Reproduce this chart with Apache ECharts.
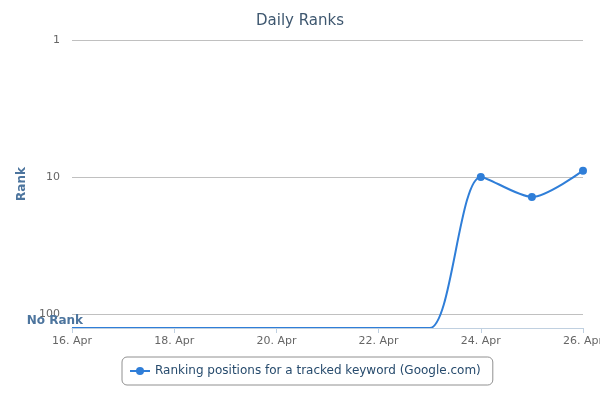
<!DOCTYPE html>
<html><head><meta charset="utf-8">
<script src="https://cdn.jsdelivr.net/npm/echarts@6/dist/echarts.min.js"></script>
<style>html,body{margin:0;padding:0;background:#fff}#c{width:600px;height:400px}</style>
</head><body><div id="c"></div>
<script>
const categories = ['16. Apr','17. Apr','18. Apr','19. Apr','20. Apr','21. Apr','22. Apr','23. Apr','24. Apr','25. Apr','26. Apr'];
const ranks = [null,null,null,null,null,null,null,null,10,14,9];
const NO_RANK = 127;
const yTicks = [1,10,100];
const seriesName = 'Ranking positions for a tracked keyword (Google.com)';

const seriesData = ranks.map(r => r === null ? {value: NO_RANK, symbol: 'none'} : {value: r});

const chart = echarts.init(document.getElementById('c'));
chart.setOption({
  animation: false,
  textStyle: {fontFamily: 'DejaVu Sans'},
  title: {text: 'Daily Ranks', left: 'center', top: 9,
    textStyle: {color: '#3e576f', fontSize: 15, fontWeight: 'normal', fontFamily: 'DejaVu Sans'}},
  grid: {left: 72, right: 17, top: 40, bottom: 72, outerBoundsMode: 'none', containLabel: false},
  xAxis: {type: 'category', data: categories, boundaryGap: false,
    axisLine: {lineStyle: {color: '#c0d0e0'}},
    axisTick: {interval: 1, lineStyle: {color: '#c0d0e0'}, length: 5},
    axisLabel: {interval: 1, color: '#666', fontSize: 11, margin: 8}},
  yAxis: {type: 'log', logBase: 10, inverse: true, min: 1, max: NO_RANK,
    name: 'Rank', nameLocation: 'middle', nameGap: 40, nameRotate: 90,
    nameTextStyle: {color: '#4d759e', fontWeight: 'bold', fontSize: 12},
    axisLine: {show: false}, axisTick: {show: false},
    splitLine: {lineStyle: {color: '#c0c0c0'}},
    axisLabel: {color: '#666', fontSize: 11, margin: 12,
      formatter: v => yTicks.includes(Math.round(v)) ? String(Math.round(v)) : ''}},
  legend: {top: 357, left: 122, borderColor: '#909090', borderWidth: 1, borderRadius: 5,
    padding: [8, 12, 8, 7], itemWidth: 20, itemHeight: 10, itemGap: 8,
    textStyle: {color: '#274b6d', fontSize: 12}},
  series: [{
    name: seriesName, type: 'line', data: seriesData, smooth: 0.28,
    color: '#2f7ed8', symbol: 'circle', symbolSize: 8,
    lineStyle: {width: 2, color: '#2f7ed8'},
    itemStyle: {color: '#2f7ed8'},
    markLine: {silent: true, symbol: 'none',
      lineStyle: {color: '#c0d0e0', type: 'solid', width: 1},
      label: {position: 'start', formatter: 'No Rank', color: '#4d759e', fontWeight: 'bold',
        fontSize: 12, distance: -11, offset: [0, -7]},
      data: [{yAxis: NO_RANK}]}
  }]
});
</script></body></html>
